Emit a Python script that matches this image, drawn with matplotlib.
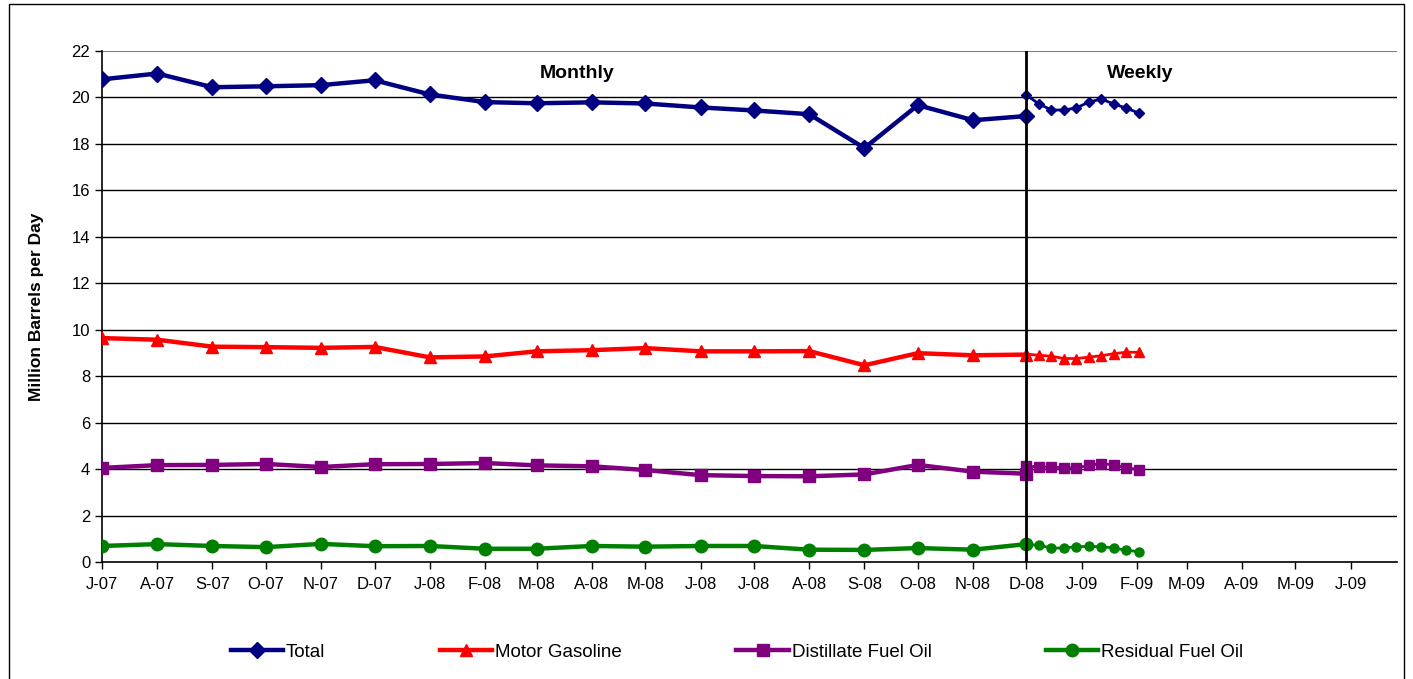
import matplotlib
matplotlib.use("Agg")
import matplotlib.pyplot as plt
import matplotlib.dates as mdates
import numpy as np
import datetime as dt

plt.rcParams['font.family'] = ['Liberation Sans', 'DejaVu Sans']

# ---- data ----
monthly_dates = [dt.date(2007 + (6 + i) // 12, (6 + i) % 12 + 1, 1) for i in range(18)]
weekly_dates = [dt.date(2008, 12, 1) + dt.timedelta(days=7 * i) for i in range(10)]
tick_dates = [dt.date(2007 + (6 + i) // 12, (6 + i) % 12 + 1, 1) for i in range(24)]
tick_labels = ["J-07", "A-07", "S-07", "O-07", "N-07", "D-07", "J-08", "F-08", "M-08", "A-08",
               "M-08", "J-08", "J-08", "A-08", "S-08", "O-08", "N-08", "D-08", "J-09", "F-09",
               "M-09", "A-09", "M-09", "J-09"]

total_monthly = [20.78, 21.03, 20.44, 20.48, 20.53, 20.74, 20.13, 19.80, 19.75, 19.79,
                 19.74, 19.57, 19.44, 19.28, 17.82, 19.67, 19.02, 19.20]
gasoline_monthly = [9.64, 9.57, 9.27, 9.25, 9.22, 9.26, 8.81, 8.85, 9.07, 9.12,
                    9.21, 9.07, 9.07, 9.08, 8.47, 8.99, 8.90, 8.93]
distillate_monthly = [4.05, 4.17, 4.18, 4.22, 4.09, 4.21, 4.22, 4.26, 4.16, 4.12,
                      3.96, 3.74, 3.70, 3.69, 3.77, 4.18, 3.89, 3.80]
residual_monthly = [0.69, 0.77, 0.69, 0.64, 0.78, 0.68, 0.69, 0.57, 0.57, 0.69,
                    0.66, 0.69, 0.69, 0.53, 0.52, 0.60, 0.53, 0.77]

total_weekly = [20.10, 19.72, 19.46, 19.46, 19.55, 19.80, 19.93, 19.72, 19.54, 19.33]
gasoline_weekly = [8.95, 8.90, 8.86, 8.76, 8.76, 8.82, 8.88, 8.97, 9.03, 9.03]
distillate_weekly = [4.13, 4.09, 4.09, 4.06, 4.05, 4.16, 4.24, 4.18, 4.05, 3.98]
residual_weekly = [0.76, 0.72, 0.60, 0.60, 0.66, 0.67, 0.66, 0.61, 0.50, 0.45]

series = [
    ("Total", total_monthly, total_weekly, "#000080", "D"),
    ("Motor Gasoline", gasoline_monthly, gasoline_weekly, "#FF0000", "^"),
    ("Distillate Fuel Oil", distillate_monthly, distillate_weekly, "#800080", "s"),
    ("Residual Fuel Oil", residual_monthly, residual_weekly, "#008000", "o"),
]

fig = plt.figure(figsize=(14.13, 6.79), dpi=100)
ax = fig.add_axes([102 / 1413, 1 - 562 / 679, (1397 - 102) / 1413, (562 - 51) / 679])

msize = {"D": 8.5, "^": 9, "s": 9, "o": 9}
wsize = {"D": 5.5, "^": 6.5, "s": 6.5, "o": 6.5}
for name, mvals, wvals, col, mk in series:
    ax.plot(monthly_dates, mvals, color=col, lw=3.2, marker=mk, ms=msize[mk],
            mec=col, mfc=col, label=name, zorder=4)
    ax.plot(weekly_dates, wvals, color=col, lw=2, marker=mk, ms=wsize[mk],
            mec=col, mfc=col, zorder=4)

start = dt.date(2007, 7, 1)
ax.set_ylim(0, 22)
ax.set_yticks(np.arange(0, 23, 2))
ax.set_xlim(mdates.date2num(start), mdates.date2num(start) + 727)
ax.set_xticks([mdates.date2num(d) for d in tick_dates])
ax.set_xticklabels(tick_labels)

for v in np.arange(2, 22, 2):
    ax.axhline(v, color="black", lw=1, zorder=1)
ax.axhline(22, color="#808080", lw=1.5, zorder=1)

ax.axvline(mdates.date2num(dt.date(2008, 12, 1)), color="black", lw=2, zorder=5)

for s in ["top", "right"]:
    ax.spines[s].set_visible(False)
ax.spines["left"].set_color("black")
ax.spines["bottom"].set_color("black")
ax.spines["left"].set_linewidth(1.2)
ax.spines["bottom"].set_linewidth(1.2)
ax.tick_params(axis="both", direction="out", length=5, width=1, labelsize=12, colors="black")
ax.tick_params(axis="x", pad=6)

ax.set_ylabel("Million Barrels per Day", fontsize=12.5, fontweight="bold", labelpad=20)

ax.text(mdates.date2num(start) + 267, 21.05, "Monthly", ha="center", va="center",
        fontsize=14, fontweight="bold")
ax.text(mdates.date2num(start) + 583, 21.05, "Weekly", ha="center", va="center",
        fontsize=14, fontweight="bold")

leg = fig.legend(loc="center", bbox_to_anchor=(0.5216, 1 - 652 / 679), ncol=4, frameon=False,
                 fontsize=13.5, columnspacing=6.1, handlelength=2.8, handletextpad=0.15)

# outer border
fig.add_artist(plt.Rectangle((9 / 1413, -0.01), (1404 - 9) / 1413, 1 - 4 / 679 + 0.01,
                             transform=fig.transFigure, fill=False, ec="black", lw=1))

fig.savefig("out.png", dpi=100)
